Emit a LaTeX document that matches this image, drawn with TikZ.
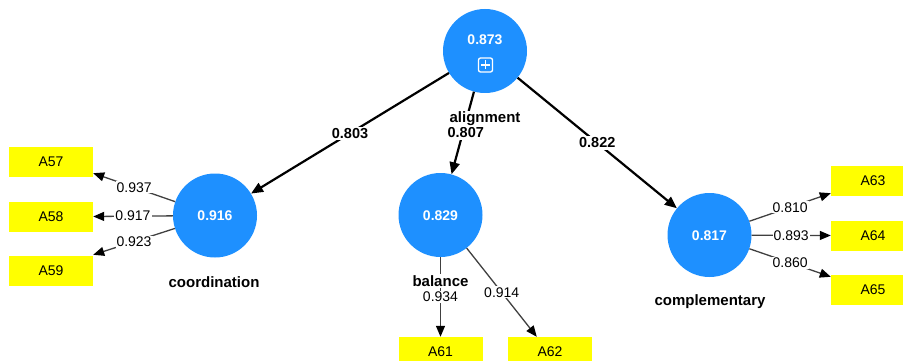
\documentclass[tikz,border=0pt]{standalone}
\usepackage{fontspec}
\setmainfont{Liberation Sans}
\usetikzlibrary{arrows.meta,calc}
\definecolor{lvblue}{RGB}{30,144,255}
\definecolor{mvyellow}{RGB}{255,255,0}
\begin{document}
\begin{tikzpicture}[x=1pt,y=-1pt,
  lv/.style={circle,fill=lvblue,minimum size=84pt,inner sep=0pt},
  mv/.style={rectangle,fill=mvyellow,minimum width=84pt,minimum height=30pt,inner sep=0pt,font=\fontsize{14}{16}\selectfont},
  lvval/.style={text=white,font=\fontsize{14}{16}\selectfont\bfseries,inner sep=0pt},
  lvname/.style={font=\fontsize{15}{17}\selectfont\bfseries,fill=white,inner sep=1pt},
  pathc/.style={line width=2.2pt,draw=black,-{Triangle[length=12pt,width=10pt]}},
  loadc/.style={line width=1.3pt,draw=black!75,-{Triangle[length=11pt,width=9pt,color=black]}},
  plbl/.style={font=\fontsize{14.5}{16}\selectfont\bfseries,fill=white,inner sep=1.5pt},
  llbl/.style={font=\fontsize{14}{16}\selectfont,fill=white,inner sep=1pt}]
\useasboundingbox (0,0) rectangle (903,361);
\clip (0,0) rectangle (903,361);

% latent variables
\node[lv] (align) at (485,51) {};
\node[lv] (coord) at (215,215.5) {};
\node[lv] (bal) at (440.5,215) {};
\node[lv] (comp) at (709.5,235) {};

\node[lvval] (alignv) at (485,40) {0.873};
\node[draw=white,line width=1.3pt,rounded corners=2pt,minimum size=14pt,inner sep=0pt] (plus) at (485.5,65) {};
\draw[white,line width=1.3pt] ($(plus.center)+(-4.5,0)$) -- ($(plus.center)+(4.5,0)$);
\draw[white,line width=1.3pt] ($(plus.center)+(0,-4.5)$) -- ($(plus.center)+(0,4.5)$);
\node[lvval] (coordv) at (215,216) {0.916};
\node[lvval] (balv) at (440.5,216) {0.829};
\node[lvval] (compv) at (709.5,236) {0.817};

% indicators
\node[mv] (A57) at (51,162) {A57};
\node[mv] (A58) at (51,216.5) {A58};
\node[mv] (A59) at (51,271) {A59};
\node[mv] (A61) at (440.5,352) {A61};
\node[mv] (A62) at (550,352) {A62};
\node[mv] (A63) at (873,181) {A63};
\node[mv] (A64) at (873,235.5) {A64};
\node[mv] (A65) at (873,290) {A65};

\coordinate (t57) at ($(A57.south east)+(0,-4)$);
\coordinate (t59) at ($(A59.north east)+(0,-1)$);
\coordinate (t62) at ($(A62.north west)+(29,0)$);
\coordinate (t63) at ($(A63.south west)+(0,-3)$);
\coordinate (t65) at ($(A65.north west)+(0,2)$);

% structural paths
\draw[pathc] (align) -- node[plbl,pos=0.5]{0.803} (coord);
\draw[pathc] (align) -- node[plbl,pos=0.5,xshift=3pt]{0.807} (bal);
\draw[pathc] (align) -- node[plbl,pos=0.5]{0.822} (comp);

% loadings
\draw[loadc] (coord) -- node[llbl,pos=0.5]{0.937} (t57);
\draw[loadc] (coord) -- node[llbl,pos=0.5]{0.917} (A58.east);
\draw[loadc] (coord) -- node[llbl,pos=0.5]{0.923} (t59);
\draw[loadc] (bal) -- node[llbl,pos=0.5]{0.934} (A61.north);
\draw[loadc] (bal) -- node[llbl,pos=0.5]{0.914} (t62);
\draw[loadc] (comp) -- node[llbl,pos=0.5]{0.810} (t63);
\draw[loadc] (comp) -- node[llbl,pos=0.5]{0.893} (A64.west);
\draw[loadc] (comp) -- node[llbl,pos=0.5]{0.860} (t65);

% names
\node[lvname] (alignn) at (485,119) {alignment};
\node[lvname] (coordn) at (214,282) {coordination};
\node[lvname] (baln) at (440.5,281) {balance};
\node[lvname] (compn) at (710,302) {complementary};
\end{tikzpicture}
\end{document}
